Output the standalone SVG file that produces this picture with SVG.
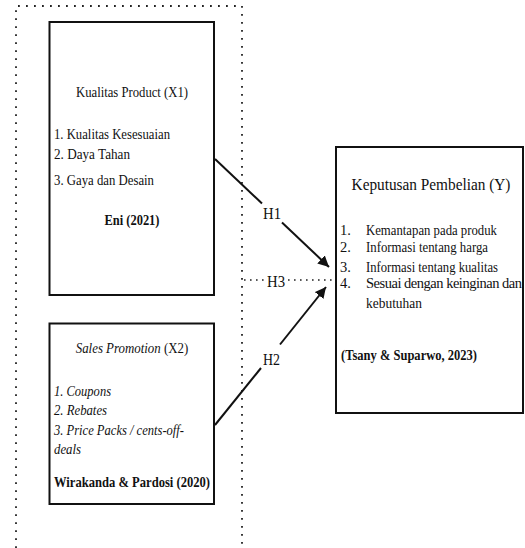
<svg xmlns="http://www.w3.org/2000/svg" width="525" height="548" viewBox="0 0 525 548">
<defs>
<style>
text{font-family:"Liberation Serif","Times New Roman",serif;fill:#111;}
.t{font-size:15px;}
.s{font-size:14.5px;}
.b{font-weight:bold;}
.i{font-style:italic;}
.box{fill:#fff;stroke:#111;stroke-width:2;}
.dot{fill:none;stroke:#222;stroke-width:1.8;stroke-dasharray:1.8 6.2;}
.arr{fill:none;stroke:#111;stroke-width:2;}
.h{font-size:16px;}
</style>
<marker id="ah" viewBox="0 0 10 10" refX="10" refY="5" markerWidth="5.5" markerHeight="5.5" orient="auto" markerUnits="strokeWidth">
<path d="M0,0 L10,5 L0,10 z" fill="#111"/>
</marker>
</defs>
<rect width="525" height="548" fill="#fff"/>
<g id="frame">
<path class="dot" d="M16,548 L16,6 L242,6 L242,548"/>
</g>
<g id="connectors">
<line class="arr" x1="215" y1="159" x2="262" y2="203.5"/>
<line class="arr" x1="282" y1="222.5" x2="329" y2="267" marker-end="url(#ah)"/>
<line class="arr" x1="215" y1="425" x2="261" y2="368"/>
<line class="arr" x1="280" y1="344.5" x2="326" y2="287" marker-end="url(#ah)"/>
<line class="dot" style="stroke-dasharray:1.6 4.4;stroke-width:1.6" x1="244" y1="280" x2="265" y2="280"/>
<line class="dot" style="stroke-dasharray:1.6 4.4;stroke-width:1.6" x1="288" y1="280" x2="333" y2="280"/>
<text class="h" x="263" y="219" textLength="18" lengthAdjust="spacingAndGlyphs">H1</text>
<text class="h" x="263" y="365" textLength="17" lengthAdjust="spacingAndGlyphs">H2</text>
<text class="h" x="267" y="287" textLength="18" lengthAdjust="spacingAndGlyphs">H3</text>
</g>
<g id="x1">
<rect class="box" x="49.5" y="22" width="164.5" height="273"/>
<text class="t" x="132" y="97" text-anchor="middle" textLength="112" lengthAdjust="spacingAndGlyphs">Kualitas Product (X1)</text>
<text class="t" x="54" y="139" textLength="116" lengthAdjust="spacingAndGlyphs">1. Kualitas Kesesuaian</text>
<text class="t" x="54" y="159" textLength="76" lengthAdjust="spacingAndGlyphs">2. Daya Tahan</text>
<text class="t" x="54" y="185" textLength="100" lengthAdjust="spacingAndGlyphs">3. Gaya dan Desain</text>
<text class="t b" x="132" y="225" text-anchor="middle" textLength="55" lengthAdjust="spacingAndGlyphs">Eni (2021)</text>
</g>
<g id="x2">
<rect class="box" x="49.5" y="323.5" width="164.5" height="180.5"/>
<text class="t" transform="translate(132,353) scale(0.86,1)" text-anchor="middle"><tspan class="i">Sales Promotion</tspan> (X2)</text>
<text class="t i" x="54" y="396" textLength="57" lengthAdjust="spacingAndGlyphs">1. Coupons</text>
<text class="t i" x="54" y="415" textLength="53" lengthAdjust="spacingAndGlyphs">2. Rebates</text>
<text class="t i" x="54" y="435" textLength="130" lengthAdjust="spacingAndGlyphs">3. Price Packs / cents-off-</text>
<text class="t i" x="54" y="454" textLength="27" lengthAdjust="spacingAndGlyphs">deals</text>
<text class="t b" x="54" y="487" textLength="156" lengthAdjust="spacingAndGlyphs">Wirakanda &amp; Pardosi (2020)</text>
</g>
<g id="y">
<rect class="box" x="336" y="147" width="187" height="266"/>
<text transform="translate(431,190) scale(0.9,1)" text-anchor="middle" style="font-size:17px">Keputusan Pembelian (Y)</text>
<text class="s" x="340" y="235">1.</text>
<text class="s" x="366" y="235" textLength="131" lengthAdjust="spacingAndGlyphs">Kemantapan pada produk</text>
<text class="s" x="340" y="252">2.</text>
<text class="s" x="366" y="252" textLength="122" lengthAdjust="spacingAndGlyphs">Informasi tentang harga</text>
<text class="s" x="340" y="272">3.</text>
<text class="s" x="366" y="272" textLength="132" lengthAdjust="spacingAndGlyphs">Informasi tentang kualitas</text>
<text class="s" x="340" y="288">4.</text>
<text class="s" x="366" y="288" textLength="156" lengthAdjust="spacing">Sesuai dengan keinginan dan</text>
<text class="s" x="366" y="308" textLength="56" lengthAdjust="spacingAndGlyphs">kebutuhan</text>
<text class="t b" x="341" y="360" textLength="136" lengthAdjust="spacingAndGlyphs">(Tsany &amp; Suparwo, 2023)</text>
</g>
</svg>
